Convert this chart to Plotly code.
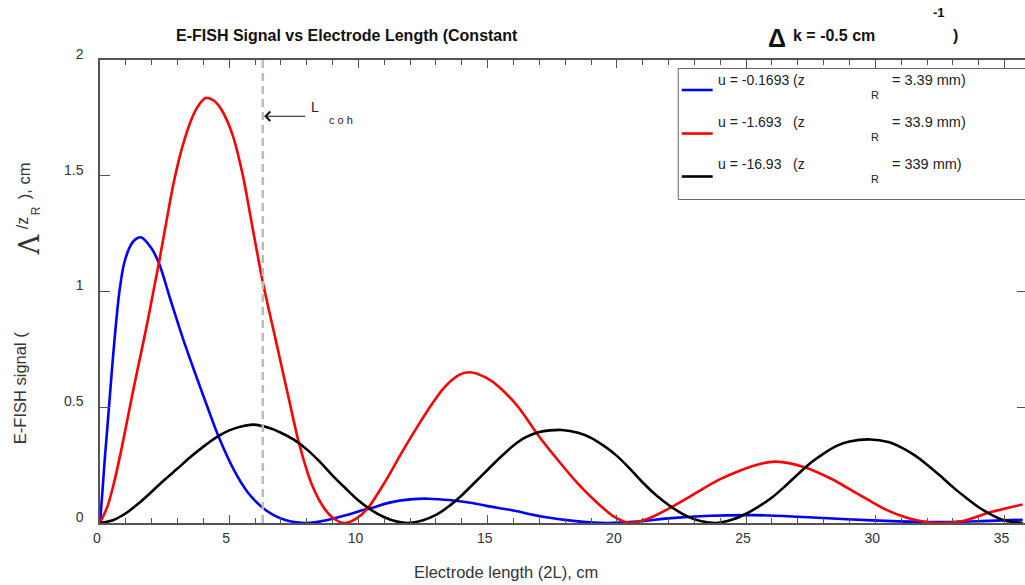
import plotly.graph_objects as go

# ---------------- data ----------------
x_blue = [0, 0.09, 0.18, 0.29, 0.39, 0.49, 0.61, 0.74, 0.93, 1.19, 1.38, 1.58, 1.97, 2.29, 2.74,
          3.2, 3.64, 4.16, 4.6, 5.19, 5.7, 6.2, 6.7, 7.2, 7.6, 8.0, 8.5, 9.0, 9.5, 10.0,
          10.5, 11.2, 12.0, 12.7, 13.6, 14.4, 15.0, 15.9, 17.2, 18.5, 19.6, 20.8, 22.1,
          23.6, 25.3, 27.0, 28.9, 30.9, 32.5, 34.1, 35.7]
y_blue = [0, 0.13, 0.27, 0.42, 0.56, 0.70, 0.85, 0.99, 1.12, 1.20, 1.226, 1.234, 1.19, 1.12, 0.96,
          0.80, 0.66, 0.50, 0.37, 0.227, 0.135, 0.075, 0.035, 0.012, 0.003, 0.0, 0.006,
          0.018, 0.033, 0.05, 0.065, 0.088, 0.102, 0.105, 0.098, 0.086, 0.073, 0.056,
          0.026, 0.007, 0.0, 0.006, 0.021, 0.031, 0.034, 0.027, 0.016, 0.007, 0.004,
          0.008, 0.014]

x_red = [0, 0.29, 0.54, 0.80, 1.06, 1.32, 1.58, 1.84, 2.10, 2.29, 2.55, 2.85, 3.2, 3.6, 3.85,
         4.09, 4.4, 4.7, 5.12, 5.53, 5.83, 6.3, 6.8, 7.3, 7.7, 8.2, 8.7, 9.1, 9.47, 9.9, 10.35,
         11.04, 11.68, 12.33, 12.84, 13.3, 13.9, 14.3, 14.9, 15.42, 16.19, 16.96, 17.73,
         18.5, 19.28, 19.92, 20.5, 21.2, 22.1, 23.0, 23.9, 24.8, 25.5, 26.16, 27.26,
         28.29, 29.32, 30.35, 31.25, 32.4, 33.43, 34.47, 35.7]
y_red = [0, 0.072, 0.173, 0.303, 0.447, 0.592, 0.73, 0.87, 1.02, 1.13, 1.29, 1.47, 1.63,
         1.76, 1.81, 1.836, 1.825, 1.785, 1.68, 1.50, 1.32, 1.04, 0.79, 0.54, 0.345, 0.165,
         0.06, 0.015, 0.0, 0.018, 0.062, 0.18, 0.305, 0.425, 0.513, 0.583, 0.64, 0.651, 0.63,
         0.59, 0.50, 0.378, 0.27, 0.169, 0.083, 0.025, 0.0, 0.018, 0.068, 0.126, 0.184, 0.228,
         0.254, 0.265, 0.241, 0.191, 0.126, 0.061, 0.022, 0.0, 0.010, 0.047, 0.08]

x_black = [0, 0.5, 1.0, 1.5, 2.0, 2.5, 3.0, 3.5, 4.0, 4.5, 5.0, 5.5, 5.93, 6.5, 7.0, 7.5,
           8.0, 8.5, 9.0, 9.5, 10.0, 10.5, 11.0, 11.5, 11.9, 12.5, 13.0, 13.5, 14.0, 14.5,
           15.0, 15.5, 16.0, 16.5, 17.0, 17.4, 17.86, 18.5, 19.0, 19.5, 20.0, 20.5, 21.0, 21.5,
           22.0, 22.5, 23.0, 23.5, 23.85, 24.5, 25.0, 25.5, 26.0, 26.5, 27.0, 27.5, 28.0,
           28.5, 29.0, 29.8, 30.5, 31.0, 31.5, 32.0, 32.5, 33.0, 33.5, 34.0, 34.5, 35.0,
           35.7]
y_black = [0, 0.012, 0.042, 0.085, 0.135, 0.187, 0.235, 0.285, 0.33, 0.37, 0.40, 0.418,
           0.425, 0.412, 0.39, 0.36, 0.318, 0.265, 0.205, 0.15, 0.097, 0.056, 0.025, 0.006,
           0.0, 0.012, 0.035, 0.072, 0.12, 0.175, 0.23, 0.285, 0.335, 0.372, 0.393, 0.400,
           0.402, 0.39, 0.368, 0.333, 0.29, 0.235, 0.175, 0.122, 0.078, 0.042, 0.016, 0.003,
           0.0, 0.016, 0.04, 0.072, 0.11, 0.158, 0.21, 0.26, 0.30, 0.333, 0.352, 0.361, 0.35,
           0.327, 0.294, 0.252, 0.205, 0.155, 0.11, 0.068, 0.035, 0.011, 0.0]

L_coh = 6.3
series_names = ["u = -0.1693 (z", "u = -1.693   (z", "u = -16.93   (z"]
series_zr = ["= 3.39 mm)", "= 33.9 mm)", "= 339 mm)"]
series_colors = ["#0000ff", "#ff0000", "#000000"]

# ---------------- layout geometry ----------------
# the figure is slightly wider than the 1025 px window so that the right frame
# falls just outside the visible area, as in the reference
W, H = 1029, 585
ML, MR, MT, MB = 100, 0, 60, 62
PW, PH = W - ML - MR, H - MT - MB
FONT = "Liberation Sans, Arial, sans-serif"
AXC = "#555555"


def pxx(xp):
    return (xp - ML) / PW


def pxy(yp):
    return (H - MB - yp) / PH


fig = go.Figure()
for xs, ys, c in [(x_blue, y_blue, series_colors[0]),
                  (x_red, y_red, series_colors[1]),
                  (x_black, y_black, series_colors[2])]:
    fig.add_trace(go.Scatter(x=xs, y=ys, mode="lines",
                             line=dict(color=c, width=2.6, shape="spline", smoothing=0.8),
                             showlegend=False, hoverinfo="skip"))

shapes = []
# L_coh dashed line
shapes.append(dict(type="line", xref="x", yref="y", x0=L_coh, x1=L_coh, y0=0, y1=2,
                   line=dict(color="#bbbbbb", width=2.5, dash="8px,5px")))
# legend box
shapes.append(dict(type="rect", xref="paper", yref="paper",
                   x0=pxx(679.5), x1=pxx(1040), y0=pxy(199.5), y1=pxy(68.5),
                   line=dict(color="#666666", width=1), fillcolor="white", layer="above"))
leg_y = [90, 133.5, 176.5]
txt_y = [80, 122, 164]
for i in range(3):
    shapes.append(dict(type="line", xref="paper", yref="paper",
                       x0=pxx(683), x1=pxx(714), y0=pxy(leg_y[i]), y1=pxy(leg_y[i]),
                       line=dict(color=series_colors[i], width=2.6), layer="above"))

ann = []
for i in range(3):
    ann.append(dict(xref="paper", yref="paper", x=pxx(717), y=pxy(txt_y[i]),
                    text=series_names[i], showarrow=False, xanchor="left", yanchor="middle",
                    font=dict(family=FONT, size=14, color="#222222")))
    ann.append(dict(xref="paper", yref="paper", x=pxx(876.5), y=pxy(txt_y[i] + 14.5),
                    text="R", showarrow=False, xanchor="center", yanchor="middle",
                    font=dict(family=FONT, size=11, color="#222222")))
    ann.append(dict(xref="paper", yref="paper", x=pxx(892), y=pxy(txt_y[i]),
                    text=series_zr[i], showarrow=False, xanchor="left", yanchor="middle",
                    font=dict(family=FONT, size=14.5, color="#222222")))

# title pieces
ann.append(dict(xref="paper", yref="paper", x=pxx(347.5), y=pxy(35),
                text="<b>E-FISH Signal vs Electrode Length (Constant</b>", showarrow=False,
                xanchor="center", yanchor="middle", font=dict(family=FONT, size=16, color="#111111")))
ann.append(dict(xref="paper", yref="paper", x=pxx(778), y=pxy(38),
                text="<b>Δ</b>", showarrow=False, xanchor="center", yanchor="middle",
                font=dict(family=FONT, size=25, color="#111111")))
ann.append(dict(xref="paper", yref="paper", x=pxx(792), y=pxy(35),
                text="<b>k = -0.5 cm</b>", showarrow=False, xanchor="left", yanchor="middle",
                font=dict(family=FONT, size=16, color="#111111")))
ann.append(dict(xref="paper", yref="paper", x=pxx(941), y=pxy(13),
                text="<b>-1</b>", showarrow=False, xanchor="center", yanchor="middle",
                font=dict(family=FONT, size=13, color="#111111")))
ann.append(dict(xref="paper", yref="paper", x=pxx(957), y=pxy(35),
                text="<b>)</b>", showarrow=False, xanchor="center", yanchor="middle",
                font=dict(family=FONT, size=16, color="#111111")))

# axis titles
ann.append(dict(xref="paper", yref="paper", x=pxx(507), y=pxy(572),
                text="Electrode length (2L), cm", showarrow=False, xanchor="center",
                yanchor="middle", font=dict(family=FONT, size=16.5, color="#333333")))
ann.append(dict(xref="paper", yref="paper", x=pxx(20), y=pxy(388), textangle=-90,
                text="E-FISH signal (", showarrow=False, xanchor="center", yanchor="middle",
                font=dict(family=FONT, size=16.5, color="#333333")))
ann.append(dict(xref="paper", yref="paper", x=pxx(29), y=pxy(245), textangle=-90,
                text="Λ", showarrow=False, xanchor="center", yanchor="middle",
                font=dict(family="DejaVu Serif, serif", size=27, color="#333333")))
ann.append(dict(xref="paper", yref="paper", x=pxx(23), y=pxy(223), textangle=-90,
                text="/z", showarrow=False, xanchor="center", yanchor="middle",
                font=dict(family=FONT, size=16, color="#333333")))
ann.append(dict(xref="paper", yref="paper", x=pxx(36), y=pxy(211), textangle=-90,
                text="R", showarrow=False, xanchor="center", yanchor="middle",
                font=dict(family=FONT, size=12, color="#333333")))
ann.append(dict(xref="paper", yref="paper", x=pxx(24), y=pxy(181), textangle=-90,
                text="), cm", showarrow=False, xanchor="center", yanchor="middle",
                font=dict(family=FONT, size=16.5, color="#333333")))

# L_coh arrow and label
ann.append(dict(xref="x", yref="y", x=L_coh + 0.05, y=1.757, ax=8.0, ay=1.757,
                axref="x", ayref="y", text="", showarrow=True, arrowhead=4, arrowsize=1.5,
                arrowwidth=1.2, arrowcolor="#111111"))
ann.append(dict(xref="x", yref="y", x=8.31, y=1.797, text="L", showarrow=False,
                xanchor="center", yanchor="middle",
                font=dict(family=FONT, size=14, color="#222222")))
ann.append(dict(xref="x", yref="y", x=9.32, y=1.742, text="c o h", showarrow=False,
                xanchor="center", yanchor="middle",
                font=dict(family=FONT, size=11, color="#222222")))

fig.update_layout(
    width=W, height=H,
    margin=dict(l=ML, r=MR, t=MT, b=MB, pad=0),
    paper_bgcolor="white", plot_bgcolor="white",
    font=dict(family=FONT, size=14, color="#333333"),
    shapes=shapes, annotations=ann, showlegend=False,
    xaxis=dict(range=[0, PW / 25.9], tickmode="linear", tick0=0, dtick=5,
               ticks="inside", ticklen=8, tickwidth=1, tickcolor=AXC,
               minor=dict(tickmode="linear", tick0=0, dtick=1, ticks="inside", ticklen=5,
                          tickcolor=AXC, showgrid=False),
               showline=True, linecolor=AXC, linewidth=1.5, mirror="ticks",
               showgrid=False, zeroline=False, ticklabelshift=-3, ticklabelstandoff=1,
               tickfont=dict(family=FONT, size=14, color="#333333")),
    yaxis=dict(range=[0, 2], tickmode="linear", tick0=0, dtick=0.5,
               ticks="inside", ticklen=10, tickwidth=1, tickcolor=AXC,
               showline=True, linecolor=AXC, linewidth=1.5, mirror="ticks",
               showgrid=False, zeroline=False, ticklabelshift=-6, ticklabelstandoff=12,
               tickfont=dict(family=FONT, size=14, color="#333333")),
)

fig.write_html("out.html", config={"displayModeBar": False},
               post_script="document.body.style.margin='0';document.body.style.overflow='hidden';")
